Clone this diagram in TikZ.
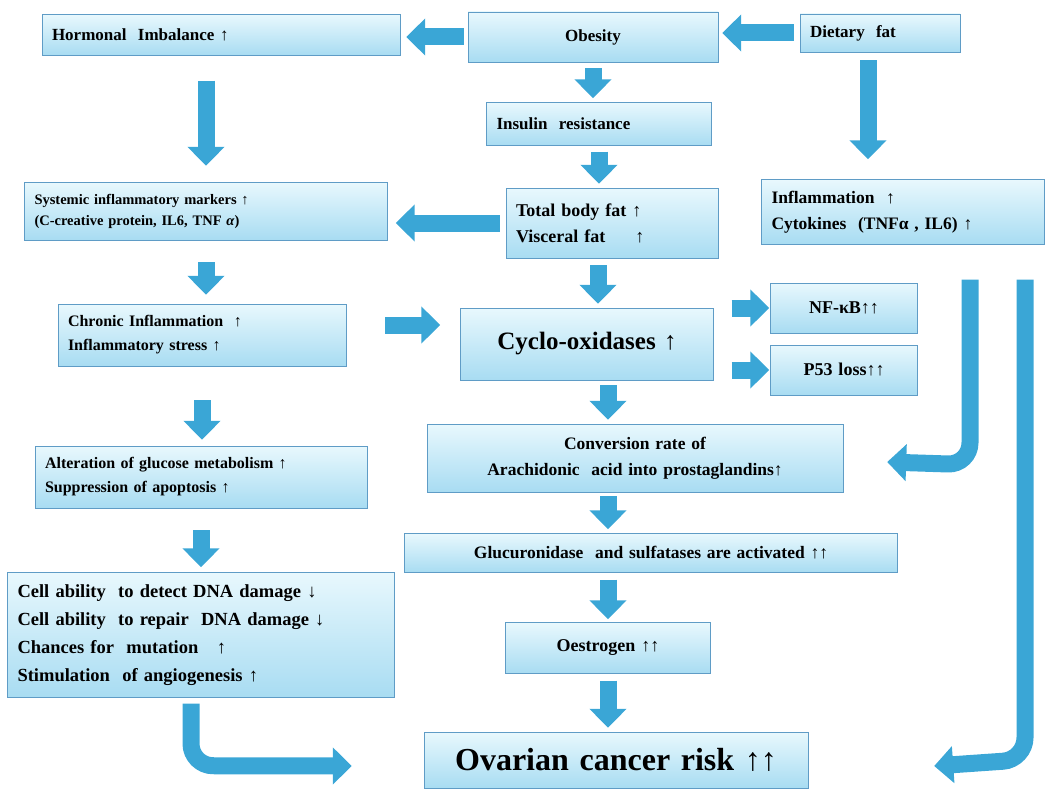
\documentclass[tikz,border=0pt]{standalone}
\usepackage{fontspec}
\setmainfont{Liberation Serif}
\usetikzlibrary{calc,arrows.meta}
\definecolor{arrblue}{HTML}{3AA6D6}
\definecolor{boxline}{HTML}{5F9CC6}
\definecolor{boxtop}{HTML}{E8F8FD}
\definecolor{boxbot}{HTML}{A8DCF2}
\tikzset{
  box/.style={draw=boxline,top color=boxtop,bottom color=boxbot,
    font=\bfseries\fontsize{17}{21}\selectfont,align=left,inner xsep=10pt,inner ysep=3pt},
  bigarr/.style={draw=arrblue,line width=17pt,-{Triangle[length=19pt,width=36pt]}}
}
\begin{document}
\begin{tikzpicture}[x=1pt,y=-1pt]
	\useasboundingbox (0,0) rectangle (1055,800);
	%boxes
	\node[box,text width=338pt,minimum height=41] (hormonal) at (221,35) {Hormonal\ \ Imbalance ↑};
	\node[box,text width=230pt,minimum height=50,align=center] (obesity) at (593,37) {Obesity};
	\node[box,text width=140pt,minimum height=38] (dietary) at (880,33) {Dietary\ \ fat};
	\node[box,text width=205pt,minimum height=43] (insulin) at (599,124) {Insulin\ \ resistance};
	\node[box,text width=343pt,minimum height=58,font=\bfseries\fontsize{14.5}{21}\selectfont] (systemic) at (206,211) {Systemic inflammatory markers ↑\\(C-creative protein, IL6, TNF \textit{α})};
	\node[box,text width=192pt,minimum height=70,font=\bfseries\fontsize{18}{26}\selectfont] (bodyfat) at (612,223) {Total body fat ↑\\Visceral fat\ \ \ \ \ ↑};
	\node[box,text width=263pt,minimum height=65,font=\bfseries\fontsize{17.5}{26}\selectfont] (inflam) at (903,212) {Inflammation\ \ ↑\\Cytokines\ \ (TNFα\ , IL6) ↑};
	\node[box,text width=268pt,minimum height=62,font=\bfseries\fontsize{16}{24}\selectfont] (chronic) at (202,335) {Chronic Inflammation\ \ ↑\\Inflammatory stress ↑};
	\node[box,text width=233pt,minimum height=72,align=center,font=\bfseries\fontsize{25}{28}\selectfont] (cyclo) at (587,344) {Cyclo-oxidases ↑};
	\node[box,text width=127pt,minimum height=50,align=center,font=\bfseries\fontsize{18}{22}\selectfont] (nfkb) at (844,308) {NF-κB↑↑};
	\node[box,text width=127pt,minimum height=50,align=center,font=\bfseries\fontsize{18}{22}\selectfont] (p53) at (844,370) {P53 loss↑↑};
	\node[box,text width=396pt,minimum height=68,align=center,font=\bfseries\fontsize{17.5}{26}\selectfont] (conversion) at (635,458) {Conversion rate of\\Arachidonic\ \ acid into prostaglandins↑};
	\node[box,text width=312pt,minimum height=62,font=\bfseries\fontsize{16}{24}\selectfont] (glucose) at (201,477) {Alteration of glucose metabolism ↑\\Suppression of apoptosis ↑};
	\node[box,text width=473pt,minimum height=39,align=center,font=\bfseries\fontsize{17.5}{21}\selectfont] (glucuron) at (651,553) {Glucuronidase\ \ and sulfatases are activated ↑↑};
	\node[box,text width=367pt,minimum height=125,font=\bfseries\fontsize{18.5}{28}\selectfont] (cell) at (201,635) {Cell ability\ \ to detect DNA damage ↓\\Cell ability\ \ to repair\ \ DNA damage ↓\\Chances for\ \ mutation\ \ \ ↑\\Stimulation\ \ of angiogenesis ↑};
	\node[box,text width=185pt,minimum height=51,align=center,font=\bfseries\fontsize{18}{22}\selectfont] (oestrogen) at (608,648) {Oestrogen ↑↑};
	\node[box,text width=364pt,minimum height=56,align=center,font=\bfseries\fontsize{32}{36}\selectfont] (ovarian) at (616,760) {Ovarian cancer risk ↑↑};
	%arrows
	\draw[bigarr,shorten <=4pt,shorten >=6pt] (obesity.west) -- (obesity.west -| hormonal.east);
	\draw[bigarr,shorten <=6pt,shorten >=4pt] (dietary.west) -- (dietary.west -| obesity.east);
	\draw[bigarr,shorten <=6pt,shorten >=4pt] (obesity.south) -- (obesity.south |- insulin.north);
	\draw[bigarr,shorten <=25pt,shorten >=16pt] (hormonal.south -| systemic.north) -- (systemic.north);
	\draw[bigarr,shorten <=8pt,shorten >=20pt] (dietary.south -| 868,0) -- (inflam.north -| 868,0);
	\draw[bigarr,shorten <=6pt,shorten >=4pt] (insulin.south) -- (insulin.south |- bodyfat.north);
	\draw[bigarr,shorten <=6pt,shorten >=8pt] (bodyfat.west) -- (bodyfat.west -| systemic.east);
	\draw[bigarr,shorten <=22pt,shorten >=9pt] (systemic.south) -- (systemic.south |- chronic.north);
	\draw[bigarr,shorten <=7pt,shorten >=4pt] (bodyfat.south -| 598,0) -- (cyclo.north -| 598,0);
	\draw[bigarr,shorten <=39pt,shorten >=20pt] (chronic.east |- 0,325) -- (cyclo.west |- 0,325);
	\draw[bigarr,shorten <=18pt,shorten >=1pt] (cyclo.east |- nfkb) -- (nfkb.west);
	\draw[bigarr,shorten <=18pt,shorten >=1pt] (cyclo.east |- p53) -- (p53.west);
	\draw[bigarr,shorten <=5pt,shorten >=4pt] (cyclo.south -| 608,0) -- (conversion.north -| 608,0);
	\draw[bigarr,shorten <=34pt,shorten >=6pt] (chronic.south) -- (chronic.south |- glucose.north);
	\draw[bigarr,shorten <=4pt,shorten >=4pt] (conversion.south -| 608,0) -- (glucuron.north -| 608,0);
	\draw[bigarr,shorten <=22pt,shorten >=5pt] (glucose.south) -- (glucose.south |- cell.north);
	\draw[bigarr,shorten <=7pt,shorten >=3pt] (glucuron.south -| oestrogen) -- (oestrogen.north);
	\draw[bigarr,shorten <=7pt,shorten >=4pt] (oestrogen.south) -- (oestrogen.south |- ovarian.north);
	\draw[bigarr,rounded corners=22pt] ($(cell.south)+(-10,6)$) -- ($(cell.south)+(-10,68)$) -- ($(ovarian.west)+(-72,6)$);
	\draw[bigarr,rounded corners=22pt] ($(inflam.south)+(67,35)$) -- ($(inflam.south)+(67,220)$) -- ($(conversion.east)+(44,4)$);
	\draw[bigarr,rounded corners=22pt] ($(inflam.south)+(122,35)$) -- ($(inflam.south)+(122,515)$) -- ($(ovarian.east)+(126,6)$);
\end{tikzpicture}
\end{document}
